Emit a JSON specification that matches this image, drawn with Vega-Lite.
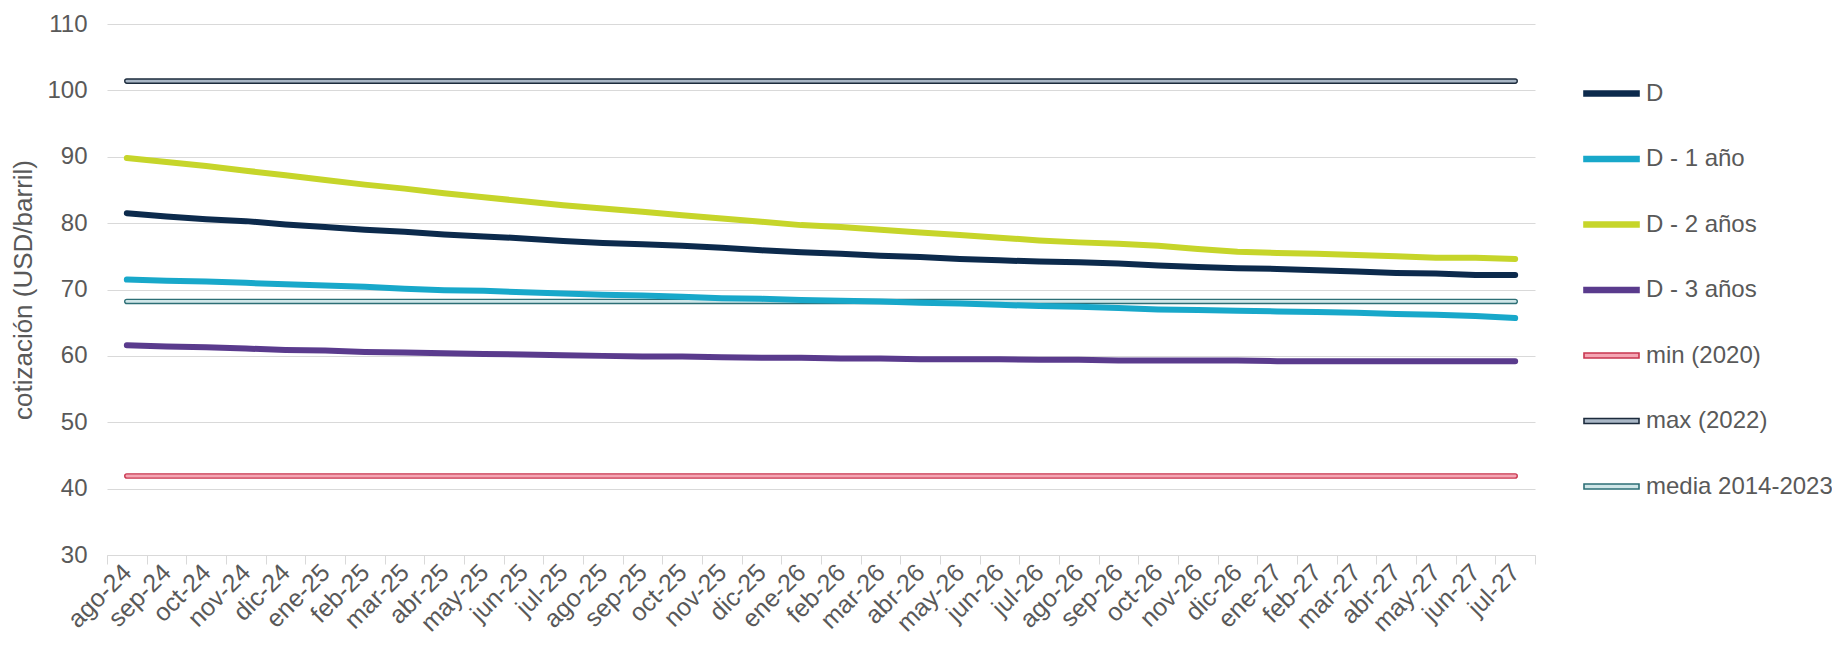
{
  "$schema": "https://vega.github.io/schema/vega-lite/v6.json",
  "autosize": {"type": "none"},
  "width": 1428,
  "height": 531,
  "padding": {"left": 107, "top": 24, "right": 297, "bottom": 90},
  "background": "white",
  "config": {
    "view": {"stroke": null},
    "font": "Liberation Sans",
    "axis": {"labelColor": "#595959", "titleColor": "#595959", "labelFont": "Liberation Sans", "titleFont": "Liberation Sans"},
    "legend": {"labelFont": "Liberation Sans"}
  },
  "data": {
    "values": [
      {"m":"ago-24","s":"D","v":81.5},{"m":"sep-24","s":"D","v":81.0},{"m":"oct-24","s":"D","v":80.6},{"m":"nov-24","s":"D","v":80.3},{"m":"dic-24","s":"D","v":79.8},{"m":"ene-25","s":"D","v":79.4},{"m":"feb-25","s":"D","v":79.0},{"m":"mar-25","s":"D","v":78.7},{"m":"abr-25","s":"D","v":78.3},{"m":"may-25","s":"D","v":78.0},{"m":"jun-25","s":"D","v":77.7},{"m":"jul-25","s":"D","v":77.3},{"m":"ago-25","s":"D","v":77.0},{"m":"sep-25","s":"D","v":76.8},{"m":"oct-25","s":"D","v":76.6},{"m":"nov-25","s":"D","v":76.3},{"m":"dic-25","s":"D","v":75.9},{"m":"ene-26","s":"D","v":75.6},{"m":"feb-26","s":"D","v":75.4},{"m":"mar-26","s":"D","v":75.1},{"m":"abr-26","s":"D","v":74.9},{"m":"may-26","s":"D","v":74.6},{"m":"jun-26","s":"D","v":74.4},{"m":"jul-26","s":"D","v":74.2},{"m":"ago-26","s":"D","v":74.1},{"m":"sep-26","s":"D","v":73.9},{"m":"oct-26","s":"D","v":73.6},{"m":"nov-26","s":"D","v":73.4},{"m":"dic-26","s":"D","v":73.2},{"m":"ene-27","s":"D","v":73.1},{"m":"feb-27","s":"D","v":72.9},{"m":"mar-27","s":"D","v":72.7},{"m":"abr-27","s":"D","v":72.5},{"m":"may-27","s":"D","v":72.4},{"m":"jun-27","s":"D","v":72.2},{"m":"jul-27","s":"D","v":72.2},
      {"m":"ago-24","s":"D - 1 año","v":71.5},{"m":"sep-24","s":"D - 1 año","v":71.3},{"m":"oct-24","s":"D - 1 año","v":71.2},{"m":"nov-24","s":"D - 1 año","v":71.0},{"m":"dic-24","s":"D - 1 año","v":70.8},{"m":"ene-25","s":"D - 1 año","v":70.6},{"m":"feb-25","s":"D - 1 año","v":70.4},{"m":"mar-25","s":"D - 1 año","v":70.1},{"m":"abr-25","s":"D - 1 año","v":69.9},{"m":"may-25","s":"D - 1 año","v":69.8},{"m":"jun-25","s":"D - 1 año","v":69.6},{"m":"jul-25","s":"D - 1 año","v":69.4},{"m":"ago-25","s":"D - 1 año","v":69.2},{"m":"sep-25","s":"D - 1 año","v":69.1},{"m":"oct-25","s":"D - 1 año","v":68.9},{"m":"nov-25","s":"D - 1 año","v":68.7},{"m":"dic-25","s":"D - 1 año","v":68.6},{"m":"ene-26","s":"D - 1 año","v":68.4},{"m":"feb-26","s":"D - 1 año","v":68.3},{"m":"mar-26","s":"D - 1 año","v":68.2},{"m":"abr-26","s":"D - 1 año","v":68.0},{"m":"may-26","s":"D - 1 año","v":67.9},{"m":"jun-26","s":"D - 1 año","v":67.7},{"m":"jul-26","s":"D - 1 año","v":67.5},{"m":"ago-26","s":"D - 1 año","v":67.4},{"m":"sep-26","s":"D - 1 año","v":67.2},{"m":"oct-26","s":"D - 1 año","v":67.0},{"m":"nov-26","s":"D - 1 año","v":66.9},{"m":"dic-26","s":"D - 1 año","v":66.8},{"m":"ene-27","s":"D - 1 año","v":66.7},{"m":"feb-27","s":"D - 1 año","v":66.6},{"m":"mar-27","s":"D - 1 año","v":66.5},{"m":"abr-27","s":"D - 1 año","v":66.3},{"m":"may-27","s":"D - 1 año","v":66.2},{"m":"jun-27","s":"D - 1 año","v":66.0},{"m":"jul-27","s":"D - 1 año","v":65.7},
      {"m":"ago-24","s":"D - 2 años","v":89.8},{"m":"sep-24","s":"D - 2 años","v":89.2},{"m":"oct-24","s":"D - 2 años","v":88.6},{"m":"nov-24","s":"D - 2 años","v":87.9},{"m":"dic-24","s":"D - 2 años","v":87.2},{"m":"ene-25","s":"D - 2 años","v":86.5},{"m":"feb-25","s":"D - 2 años","v":85.8},{"m":"mar-25","s":"D - 2 años","v":85.2},{"m":"abr-25","s":"D - 2 años","v":84.5},{"m":"may-25","s":"D - 2 años","v":83.9},{"m":"jun-25","s":"D - 2 años","v":83.3},{"m":"jul-25","s":"D - 2 años","v":82.7},{"m":"ago-25","s":"D - 2 años","v":82.2},{"m":"sep-25","s":"D - 2 años","v":81.7},{"m":"oct-25","s":"D - 2 años","v":81.2},{"m":"nov-25","s":"D - 2 años","v":80.7},{"m":"dic-25","s":"D - 2 años","v":80.2},{"m":"ene-26","s":"D - 2 años","v":79.7},{"m":"feb-26","s":"D - 2 años","v":79.4},{"m":"mar-26","s":"D - 2 años","v":79.0},{"m":"abr-26","s":"D - 2 años","v":78.6},{"m":"may-26","s":"D - 2 años","v":78.2},{"m":"jun-26","s":"D - 2 años","v":77.8},{"m":"jul-26","s":"D - 2 años","v":77.4},{"m":"ago-26","s":"D - 2 años","v":77.1},{"m":"sep-26","s":"D - 2 años","v":76.9},{"m":"oct-26","s":"D - 2 años","v":76.6},{"m":"nov-26","s":"D - 2 años","v":76.1},{"m":"dic-26","s":"D - 2 años","v":75.7},{"m":"ene-27","s":"D - 2 años","v":75.5},{"m":"feb-27","s":"D - 2 años","v":75.4},{"m":"mar-27","s":"D - 2 años","v":75.2},{"m":"abr-27","s":"D - 2 años","v":75.0},{"m":"may-27","s":"D - 2 años","v":74.8},{"m":"jun-27","s":"D - 2 años","v":74.8},{"m":"jul-27","s":"D - 2 años","v":74.6},
      {"m":"ago-24","s":"D - 3 años","v":61.6},{"m":"sep-24","s":"D - 3 años","v":61.4},{"m":"oct-24","s":"D - 3 años","v":61.3},{"m":"nov-24","s":"D - 3 años","v":61.1},{"m":"dic-24","s":"D - 3 años","v":60.9},{"m":"ene-25","s":"D - 3 años","v":60.8},{"m":"feb-25","s":"D - 3 años","v":60.6},{"m":"mar-25","s":"D - 3 años","v":60.5},{"m":"abr-25","s":"D - 3 años","v":60.4},{"m":"may-25","s":"D - 3 años","v":60.3},{"m":"jun-25","s":"D - 3 años","v":60.2},{"m":"jul-25","s":"D - 3 años","v":60.1},{"m":"ago-25","s":"D - 3 años","v":60.0},{"m":"sep-25","s":"D - 3 años","v":59.9},{"m":"oct-25","s":"D - 3 años","v":59.9},{"m":"nov-25","s":"D - 3 años","v":59.8},{"m":"dic-25","s":"D - 3 años","v":59.7},{"m":"ene-26","s":"D - 3 años","v":59.7},{"m":"feb-26","s":"D - 3 años","v":59.6},{"m":"mar-26","s":"D - 3 años","v":59.6},{"m":"abr-26","s":"D - 3 años","v":59.5},{"m":"may-26","s":"D - 3 años","v":59.5},{"m":"jun-26","s":"D - 3 años","v":59.5},{"m":"jul-26","s":"D - 3 años","v":59.4},{"m":"ago-26","s":"D - 3 años","v":59.4},{"m":"sep-26","s":"D - 3 años","v":59.3},{"m":"oct-26","s":"D - 3 años","v":59.3},{"m":"nov-26","s":"D - 3 años","v":59.3},{"m":"dic-26","s":"D - 3 años","v":59.3},{"m":"ene-27","s":"D - 3 años","v":59.2},{"m":"feb-27","s":"D - 3 años","v":59.2},{"m":"mar-27","s":"D - 3 años","v":59.2},{"m":"abr-27","s":"D - 3 años","v":59.2},{"m":"may-27","s":"D - 3 años","v":59.2},{"m":"jun-27","s":"D - 3 años","v":59.2},{"m":"jul-27","s":"D - 3 años","v":59.2},
      {"m":"ago-24","s":"min (2020)","v":41.9},{"m":"jul-27","s":"min (2020)","v":41.9},
      {"m":"ago-24","s":"max (2022)","v":101.4},{"m":"jul-27","s":"max (2022)","v":101.4},
      {"m":"ago-24","s":"media 2014-2023","v":68.2},{"m":"jul-27","s":"media 2014-2023","v":68.2}
    ]
  },
  "encoding": {
    "x": {
      "field": "m", "type": "ordinal", "sort": null,
      "scale": {"type": "band", "paddingInner": 0, "paddingOuter": 0,
        "domain": ["ago-24","sep-24","oct-24","nov-24","dic-24","ene-25","feb-25","mar-25","abr-25","may-25","jun-25","jul-25","ago-25","sep-25","oct-25","nov-25","dic-25","ene-26","feb-26","mar-26","abr-26","may-26","jun-26","jul-26","ago-26","sep-26","oct-26","nov-26","dic-26","ene-27","feb-27","mar-27","abr-27","may-27","jun-27","jul-27"]},
      "bandPosition": 0.5,
      "axis": {"title": null, "labelAngle": -45, "labelFontSize": 25, "labelAlign": "right", "labelBaseline": "middle",
        "tickBand": "extent", "tickSize": 9, "tickColor": "#d9d9d9", "domainColor": "#d9d9d9", "grid": false, "labelPadding": 4}
    },
    "y": {
      "field": "v", "type": "quantitative",
      "scale": {"domain": [30, 110], "nice": false, "zero": false},
      "axis": {"title": "cotización (USD/barril)", "titleFontSize": 26, "titleFontWeight": "normal", "titlePadding": 10,
        "values": [30,40,50,60,70,80,90,100,110], "labelFontSize": 24, "labelPadding": 20, "ticks": false, "domain": false,
        "gridColor": "#d9d9d9", "gridWidth": 1.2}
    }
  },
  "layer": [
    {
      "transform": [{"filter": "indexof(['min (2020)','max (2022)','media 2014-2023'], datum.s) >= 0"}],
      "mark": {"type": "line", "strokeWidth": 5.6, "strokeCap": "round"},
      "encoding": {
        "color": {"field": "s", "type": "nominal",
          "scale": {"domain": ["D","D - 1 año","D - 2 años","D - 3 años","min (2020)","max (2022)","media 2014-2023"],
                    "range": ["#0c2a4c","#18a8ca","#c6d52a","#5a3b8d","#c8364f","#1c2b3c","#2d6f76"]},
          "legend": {
            "title": null, "orient": "none", "legendX": 1476, "legendY": 41, "padding": 0,
            "symbolType": "M-1,-0.09L1,-0.09L1,0.09L-1,0.09Z", "symbolSize": 3025, "rowPadding": 24.5,
            "labelFontSize": 24, "labelColor": "#595959", "labelOffset": 6, "labelLimit": 400,
            "encode": {"symbols": {"update": {
              "fill": {"signal": "datum.value === 'min (2020)' ? '#f4a6b4' : datum.value === 'max (2022)' ? '#a9b7c6' : datum.value === 'media 2014-2023' ? '#cfe6e8' : scale('color', datum.value)"},
              "stroke": {"signal": "scale('color', datum.value)"},
              "strokeWidth": {"value": 1.6},
              "shape": {"value": "M-1,-0.09L1,-0.09L1,0.09L-1,0.09Z"}
            }}}
          }
        }
      }
    },
    {
      "transform": [{"filter": "indexof(['min (2020)','max (2022)','media 2014-2023'], datum.s) >= 0"}],
      "mark": {"type": "line", "strokeWidth": 2.8, "strokeCap": "round"},
      "encoding": {
        "stroke": {"field": "s", "type": "nominal",
          "scale": {"domain": ["min (2020)","max (2022)","media 2014-2023"], "range": ["#f4a6b4","#a9b7c6","#cfe6e8"]},
          "legend": null}
      }
    },
    {
      "transform": [{"filter": "indexof(['min (2020)','max (2022)','media 2014-2023'], datum.s) < 0"}],
      "mark": {"type": "line", "strokeWidth": 6, "strokeCap": "round", "strokeJoin": "round"},
      "encoding": {
        "color": {"field": "s", "type": "nominal"}
      }
    }
  ]
}
